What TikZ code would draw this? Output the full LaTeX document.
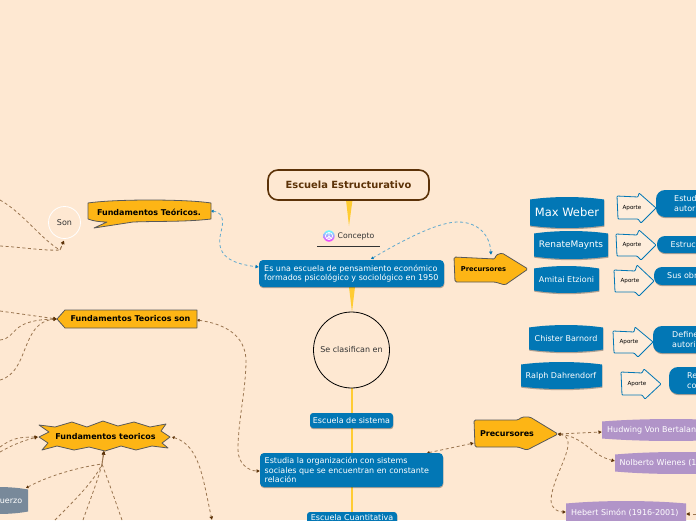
\documentclass[tikz,border=0pt]{standalone}
\usepackage{fontspec}
\setmainfont{DejaVu Sans}
\usetikzlibrary{arrows.meta,shadows}
\definecolor{bgc}{HTML}{FEE8D2}
\definecolor{blu}{HTML}{0277B5}
\definecolor{org}{HTML}{FDB515}
\definecolor{yel}{HTML}{FFCC33}
\definecolor{brn}{HTML}{5C3208}
\definecolor{pur}{HTML}{B194C8}
\definecolor{gry}{HTML}{78899A}
\definecolor{conb}{HTML}{9A7550}
\definecolor{cona}{HTML}{5FA9CF}
\tikzset{
 shd/.style={drop shadow={shadow xshift=0.4pt,shadow yshift=-1.2pt,opacity=.3,fill=black}},
 bluebox/.style={fill=blu,shd},
 orgshape/.style={fill=org,draw=black!65,line width=.8pt,line join=round},
 aporte/.style={fill=bgc!80!white,draw=blu,line width=.8pt,line join=round},
 wtxt/.style={text=white,font=\fontsize{8}{9.6}\selectfont,inner sep=0pt},
 dtxt/.style={text=black!80,font=\fontsize{8}{9.6}\selectfont,inner sep=0pt},
 btxt/.style={text=black,font=\bfseries\fontsize{8}{9.6}\selectfont,inner sep=0pt},
 atxt/.style={text=black,font=\fontsize{5.6}{6.5}\selectfont,inner sep=0pt},
 conn/.style={draw=conb,line width=.8pt,dash pattern=on 3pt off 2.6pt},
 conna/.style={draw=cona,line width=.8pt,dash pattern=on 3pt off 2.6pt},
 endb/.style={-{Latex[length=3.5pt,width=4pt,color=brn]}},
 both/.style={{Latex[length=2.5pt,width=3.5pt,color=brn]}-{Latex[length=3.5pt,width=4pt,color=brn]}},
 enda/.style={{Latex[length=2.5pt,width=3.5pt,color=blu]}-{Latex[length=3.5pt,width=4pt,color=blu]}},
 trunk/.style={draw=yel,line width=1.8pt},
 wedge/.style={fill=yel},
}
\newcommand{\barrelshape}[5]{% x1 y1 x2 y2 style
 \path[#5] (#1,#2+2.5) .. controls ({#1+(#3-#1)*.3},#2-.8) and ({#1+(#3-#1)*.7},#2-.8) .. (#3,#2+2.5)
  -- (#3,#4-2.5) .. controls ({#1+(#3-#1)*.7},#4+.8) and ({#1+(#3-#1)*.3},#4+.8) .. (#1,#4-2.5) -- cycle;}
\begin{document}
\begin{tikzpicture}[x=1pt,y=-1pt]
\path[fill=bgc] (0,0) rectangle (696,520);
\useasboundingbox (0,0) rectangle (696,520);
\clip (0,0) rectangle (696,520);
% anchor points
\coordinate (ftA) at (211,211);
\coordinate (conW) at (259,267);
\coordinate (conN) at (371,259);
\coordinate (preN) at (491,255);
\coordinate (fsE) at (197,320);
\coordinate (fsW) at (57,319);
\coordinate (estW) at (260,471);
\coordinate (estN) at (427,453);
\coordinate (preB) at (474,443);
\coordinate (preE) at (558,434);
\coordinate (hudW) at (602,432);
\coordinate (nolW) at (615,461);
\coordinate (hebW) at (566,512);
\coordinate (hebE) at (686,514);
\coordinate (sonS) at (64,240.5);
\coordinate (sonJ) at (60,250);
\coordinate (ftE) at (172,437);
\coordinate (ftW) at (38,437);
\coordinate (ftS) at (104,451);
\coordinate (ftJ) at (102,464);
\coordinate (gryN) at (26,488);
\coordinate (off1) at (0,200);
\coordinate (off2) at (0,246);
\coordinate (off3) at (0,311);
\coordinate (off4) at (0,340);
\coordinate (off5) at (0,380);
\coordinate (off6) at (0,447);
\coordinate (off7) at (0,452);
\coordinate (off8) at (55,520);
\coordinate (off9) at (83,520);
\coordinate (off10) at (122,520);
\coordinate (off11) at (212,520);
\coordinate (off12) at (696,514);
% connectors
\draw[conna,enda] (ftA) .. controls (221,212) and (225,218) .. (221,232) .. controls (216,252) and (225,263) .. (conW);
\draw[conna,enda] (conN) .. controls (410,236) and (440,222) .. (458,222) .. controls (478,222) and (490,235) .. (preN);
\draw[conn,both] (fsE) .. controls (225,324) and (245,335) .. (246,360) .. controls (246,390) and (238,420) .. (238,450) .. controls (238,463) and (248,471) .. (estW);
\draw[conn,both] (estN) -- (preB);
\draw[conn,both] (preE) -- (hudW);
\draw[conn,both] (preE) .. controls (585,437) and (590,455) .. (nolW);
\draw[conn,both] (preE) .. controls (582,438) and (552,475) .. (551,500) .. controls (551,509) and (558,512) .. (hebW);
\draw[conn,endb] (off12) -- (hebE);
\draw[conn,endb] (off1) .. controls (22,212) and (42,240) .. (sonJ) -- (sonS);
\draw[conn,endb] (off2) .. controls (20,247) and (45,251) .. (sonJ) -- (sonS);
\draw[conn,endb] (off3) -- (fsW);
\draw[conn,endb] (off4) .. controls (18,338) and (8,320) .. (fsW);
\draw[conn,endb] (off5) .. controls (30,372) and (20,322) .. (fsW);
\draw[conn,both] (ftE) .. controls (200,445) and (203,480) .. (off11);
\draw[conn,endb] (off6) .. controls (12,438) and (20,437) .. (ftW);
\draw[conn,endb] (off7) .. controls (12,445) and (25,440) .. (ftW);
\draw[conn,both] (gryN) .. controls (50,475) and (80,467) .. (ftJ) -- (ftS);
\draw[conn,endb] (off8) .. controls (75,500) and (95,480) .. (ftJ) -- (ftS);
\draw[conn,endb] (off9) .. controls (90,500) and (98,480) .. (ftJ) -- (ftS);
\draw[conn,endb] (off10) .. controls (115,500) and (108,480) .. (ftJ) -- (ftS);
% central trunk
\path[wedge] (346,200) -- (352.5,200) -- (349,226) -- cycle;
\path[wedge] (349,287) -- (355,287) -- (352,312) -- cycle;
\draw[trunk] (352,388) -- (352,512);
% title
\draw[brn,line width=1.6pt,fill=bgc,rounded corners=10pt] (268,170) rectangle (429,200);
\node[text=brn,font=\bfseries\fontsize{9.9}{11}\selectfont,inner sep=0pt] (title) at (348.5,185) {Escuela Estructurativo};
% concept
\shade[top color=cyan!60!white,bottom color=magenta!80!white] (329,236) circle (5.7);
\draw[white,line width=.7pt] (329,236) circle (3.6) (329,232.4) -- (329,239.6) (329,236) -- (326.5,238.6) (329,236) -- (331.5,238.6);
\node[text=black!80,font=\fontsize{7.7}{9}\selectfont,inner sep=0pt,anchor=west] (concepto) at (337.5,236) {Concepto};
\draw[black!80,line width=.6pt] (317,246) -- (380,246);
% blue boxes
\path[bluebox,rounded corners=4pt] (259,260) rectangle (444,287);
\node[wtxt,align=left,anchor=west] (con) at (264,273.5) {Es una escuela de pensamiento económico\\formados psicológico y sociológico en 1950};
\draw[black,line width=.8pt] (351.5,350) circle (38);
\node[dtxt] (clas) at (351.5,350) {Se clasifican en};
\path[bluebox,rounded corners=3pt] (310,413) rectangle (393,428);
\node[wtxt] (sis) at (351.5,420.5) {Escuela de sistema};
\path[bluebox,rounded corners=4pt] (260,453) rectangle (443,487);
\node[wtxt,align=left,anchor=west] (est) at (264.5,470) {Estudia la organización con sistems\\sociales que se encuentran en constante\\relación};
\path[bluebox,rounded corners=3pt] (307,512) rectangle (397,535);
\node[wtxt,anchor=north] (cuan) at (352,514.5) {Escuela Cuantitativa};
% precursores
\path[orgshape,rounded corners=1.5pt] (454,257) -- (495,259) -- (496,255) -- (502,253) -- (528,269) -- (505,285) -- (495,282) -- (455,282) -- cycle;
\node[btxt,font=\bfseries\fontsize{6.7}{8}\selectfont] (pre1) at (483.5,269.5) {Precursores};
\path[orgshape,rounded corners=1.5pt] (474,420) -- (518,420) -- (522,417) -- (530,417) -- (558,434) -- (527,450) -- (518,447) -- (475,447) -- cycle;
\node[btxt] (pre2) at (507,434) {Precursores};
% barrels
\barrelshape{530}{197}{604}{228}{bluebox}
\node[wtxt,font=\fontsize{11.5}{13}\selectfont] (max) at (567,212.5) {Max Weber};
\barrelshape{534}{231}{608}{259}{bluebox}
\node[wtxt,font=\fontsize{9}{10}\selectfont] (ren) at (571,245.5) {RenateMaynts};
\barrelshape{534}{266}{599}{293}{bluebox}
\node[wtxt] (ami) at (566.5,280) {Amitai Etzioni};
\barrelshape{529}{325}{603}{352}{bluebox}
\node[wtxt] (chi) at (566,339) {Chister Barnord};
\barrelshape{521}{362}{602}{389}{bluebox}
\node[wtxt] (ral) at (561,376) {Ralph Dahrendorf};
% aporte arrows
\path[aporte,rounded corners=.8pt] (617,196) -- (638,197) -- (639,193) -- (656,208) -- (641,223) -- (638,219) -- (618,219) -- cycle;
\node[atxt] (ap1) at (632,208) {Aporte};
\path[aporte,rounded corners=.8pt] (616,234) -- (637,235) -- (639,230) -- (656,245) -- (641,260) -- (637,256) -- (617,256) -- cycle;
\node[atxt] (ap2) at (632,245) {Aporte};
\path[aporte,rounded corners=.8pt] (614,270) -- (635,271) -- (637,265) -- (654,281) -- (639,296) -- (635,292) -- (615,292) -- cycle;
\node[atxt] (ap3) at (630,281) {Aporte};
\path[aporte,rounded corners=.8pt] (613,331) -- (634,332) -- (635,327) -- (653,342) -- (638,357) -- (634,353) -- (614,353) -- cycle;
\node[atxt] (ap4) at (629,342) {Aporte};
\path[aporte,rounded corners=.8pt] (621,372) -- (642,373) -- (644,369) -- (661,384) -- (645,399) -- (642,395) -- (622,395) -- cycle;
\node[atxt] (ap5) at (637,384) {Aporte};
% right boxes
\path[bluebox,rounded corners=9pt] (656,190) rectangle (730,217);
\node[wtxt,align=left,anchor=west] (r1) at (674,203.5) {Estud\\autor};
\path[bluebox,rounded corners=8pt] (657,236) rectangle (730,253);
\node[wtxt,anchor=west] (r2) at (670.5,244.5) {Estruc};
\path[bluebox,rounded corners=8pt] (654,267) rectangle (730,285);
\node[wtxt,anchor=west] (r3) at (667,276) {Sus obr};
\path[bluebox,rounded corners=9pt] (653,326) rectangle (730,353);
\node[wtxt,align=left,anchor=west] (r4) at (672,339.5) {Define\\autori};
\path[bluebox,rounded corners=9pt] (669,367) rectangle (730,394);
\node[wtxt,align=left,anchor=west] (r5) at (687,380.5) {Re\\co};
% purple
\barrelshape{602}{419}{740}{441}{fill=pur}
\node[wtxt,anchor=west] (hud) at (607,430) {Hudwing Von Bertalan};
\barrelshape{615}{452}{740}{474}{fill=pur}
\node[wtxt,anchor=west] (nol) at (619.5,463) {Nolberto Wienes (1};
\barrelshape{566}{501}{686}{525}{fill=pur}
\node[wtxt,anchor=west] (heb) at (571,512.5) {Hebert Simón (1916-2001)};
% fundamentos
\path[orgshape] (88,203) .. controls (115,199) and (185,199) .. (211,203) -- (211,219) .. controls (185,222) and (160,221) .. (133,222) -- (94,228) -- (107,222) .. controls (100,222) and (93,221) .. (88,219) -- cycle;
\node[btxt] (ft1) at (149,212) {Fundamentos Teóricos.};
\draw[white,line width=.8pt] (64.5,222.5) circle (16);
\node[dtxt] (son) at (64.5,222.5) {Son};
\path[orgshape] (57,319) -- (65,310) -- (197,310) -- (197,328) -- (65,328) -- cycle;
\node[btxt] (fs) at (130.5,319) {Fundamentos Teoricos son};
\path[orgshape] (39,425) -- (55,427) -- (72,422) -- (87,427) -- (103,421) -- (118,426) -- (134,422) -- (150,427) -- (166,424) -- (161,431) -- (170,437) -- (162,443) -- (168,448) -- (152,446) -- (136,450) -- (121,446) -- (105,451) -- (89,447) -- (74,450) -- (57,446) -- (42,450) -- (48,443) -- (39,437) -- (49,432) -- cycle;
\node[btxt] (ft) at (105.5,437) {Fundamentos teoricos};
% gray
\barrelshape{-30}{487}{28}{514}{fill=gry}
\node[wtxt,anchor=east] (gry) at (22.5,501) {fuerzo};
\end{tikzpicture}
\end{document}
